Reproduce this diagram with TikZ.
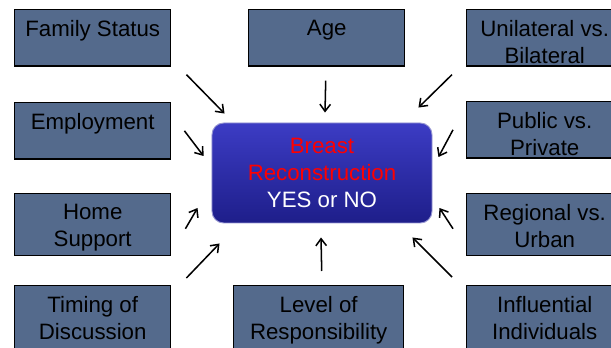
\documentclass[tikz,border=0pt]{standalone}
\usepackage{fontspec}
\setmainfont{Liberation Sans}
\usetikzlibrary{arrows.meta}
\definecolor{slate}{RGB}{84,106,140}
\definecolor{decisiontop}{RGB}{60,60,196}
\definecolor{decisionbot}{RGB}{30,30,138}
\definecolor{decisionrim}{RGB}{150,150,210}
\tikzset{
    factor/.style={draw=black,line width=1.2pt,fill=slate,anchor=north west,
        inner xsep=0pt,inner ysep=9pt,minimum width=4.68cm,
        font=\fontsize{19}{23}\selectfont,
        execute at begin node={\begin{minipage}[t][#1][t]{4.6cm}\centering},
        execute at end node={\end{minipage}}},
    factor/.default=30pt,
    decision/.style={draw=decisionrim,line width=0.8pt,rounded corners=0.35cm,
        top color=decisiontop,bottom color=decisionbot,text=white,
        minimum width=6.6cm,minimum height=3cm,align=center,
        font=\fontsize{19}{23}\selectfont},
    arr/.style={line width=1.3pt,-{Straight Barb[length=6pt,width=9pt]}}
}
\begin{document}
\begin{tikzpicture}[x=0.03cm,y=-0.03cm]
    \useasboundingbox (0,0) rectangle (611,348);
    % Factors on the left
    \node[factor] (famstatus) at (14,9) {Family Status};
    \node[factor] (employ) at (14,102) {Employment};
    \node[factor=35pt] (home) at (14,193) {Home\\Support};
    \node[factor=40pt] (timing) at (14,285) {Timing of\\Discussion};
    % Factors in the middle
    \node[factor] (age) at (248,9) {Age};
    \node[factor=40pt,minimum width=5.1cm] (level) at (233,285) {Level of\\Responsibility};
    % Factors on the right
    \node[factor] (unilat) at (466,9) {Unilateral vs.\\Bilateral};
    \node[factor] (public) at (466,101) {Public vs.\\Private};
    \node[factor=35pt] (regional) at (466,193) {Regional vs.\\Urban};
    \node[factor=40pt] (influ) at (466,285) {Influential\\Individuals};
    % The decision
    \node[decision] (decision) at (322,173)
        {\textcolor{red}{Breast}\\\textcolor{red}{Reconstruction}\\YES or NO};
    % Arrows
    \draw[arr] ([shift={(15,8)}]famstatus.south east) -- ([shift={(13,-9)}]decision.north west);
    \draw[arr] ([shift={(-1,14)}]age.south) -- ([shift={(3,-10)}]decision.north);
    \draw[arr] ([shift={(-14,8)}]unilat.south west) -- ([shift={(-14,-15)}]decision.north east);
    \draw[arr] ([shift={(13,0)}]employ.east) -- ([shift={(-8,-17)}]decision.west);
    \draw[arr] ([shift={(-13,0)}]public.west) -- ([shift={(6,-16)}]decision.east);
    \draw[arr] ([shift={(14,4)}]home.east) -- ([shift={(-14,35)}]decision.west);
    \draw[arr] ([shift={(-13,4)}]regional.west) -- ([shift={(7,35)}]decision.east);
    \draw[arr] ([shift={(15,-7)}]timing.north east) -- ([shift={(8,20)}]decision.south west);
    \draw[arr] ([shift={(3,-14)}]level.north) -- ([shift={(-1,14)}]decision.south);
    \draw[arr] ([shift={(-14,-8)}]influ.north west) -- ([shift={(-20,14)}]decision.south east);
\end{tikzpicture}
\end{document}
